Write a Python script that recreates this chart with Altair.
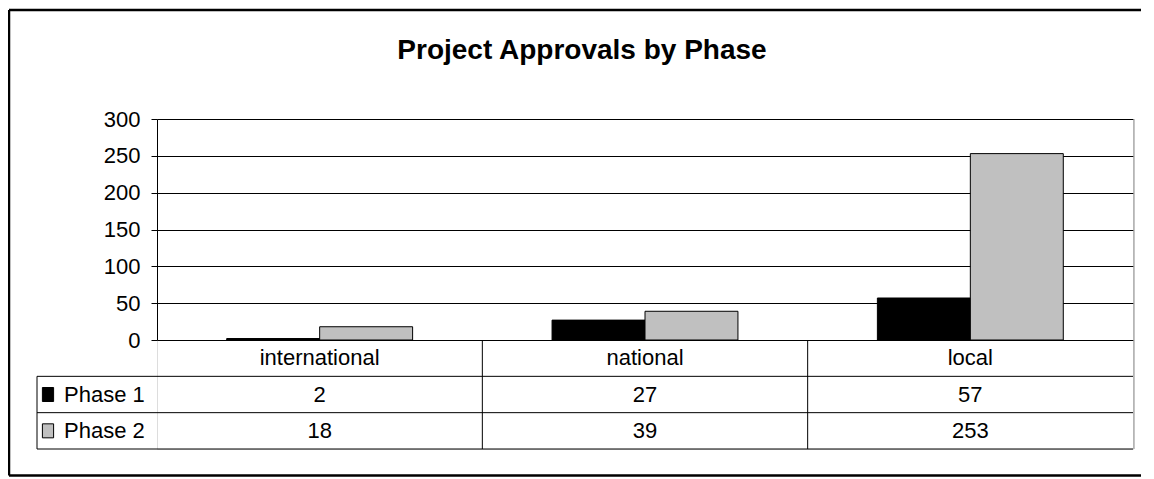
import altair as alt
import pandas as pd

# ---- data ----
categories = ["international", "national", "local"]
phases = ["Phase 1", "Phase 2"]
phase1 = [2, 27, 57]
phase2 = [18, 39, 253]
title_text = "Project Approvals by Phase"
y_ticks = [0, 50, 100, 150, 200, 250, 300]
phase_colors = ["#000000", "#c0c0c0"]
table_rows = ["category"] + phases

# ---- layout constants (pixels, relative to plot area origin) ----
FONT = "Liberation Sans"
W, H = 976, 330          # plot area + data table
PLOT_H = 221             # bar plot height
LEG_X = -120             # left edge of legend column
FS = 22

long = pd.DataFrame({
    "category": categories * 2,
    "phase": [phases[0]] * 3 + [phases[1]] * 3,
    "value": phase1 + phase2,
})
cat_df = pd.DataFrame({"category": categories, "row": ["category"] * len(categories)})
phase_df = pd.DataFrame({"phase": phases, "row": phases})
one = phase_df.head(1)

xscale = alt.Scale(domain=categories, paddingInner=0, paddingOuter=0)
rowscale = alt.Scale(type="band", domain=table_rows, range=[PLOT_H, H],
                     paddingInner=0, paddingOuter=0)
colscale = alt.Scale(domain=phases, range=phase_colors)

bars = alt.Chart(long).mark_bar(stroke="black", strokeWidth=1).encode(
    x=alt.X("category:N", scale=xscale, axis=None, sort=categories),
    xOffset=alt.XOffset("phase:N", scale=alt.Scale(domain=phases, paddingInner=0, paddingOuter=0.75)),
    y=alt.Y("value:Q",
            scale=alt.Scale(domain=[0, 300], range=[PLOT_H, 0], nice=False),
            axis=alt.Axis(values=y_ticks, title=None, grid=True, gridColor="black",
                          gridWidth=1, gridOpacity=1, domainColor="black", tickColor="black",
                          tickSize=6, labelFont=FONT, labelFontSize=FS,
                          labelColor="black", labelPadding=11)),
    color=alt.Color("phase:N", scale=colscale, legend=None),
)

text_props = dict(font=FONT, fontSize=FS, color="black", baseline="middle")

cat_text = alt.Chart(cat_df).mark_text(**text_props).encode(
    x=alt.X("category:N", scale=xscale, axis=None),
    y=alt.Y("row:N", scale=rowscale, axis=None),
    text="category:N",
)

val_text = alt.Chart(long).mark_text(**text_props).encode(
    x=alt.X("category:N", scale=xscale, axis=None),
    y=alt.Y("phase:N", scale=rowscale, axis=None),
    text="value:Q",
)

leg_text = alt.Chart(phase_df).mark_text(align="left", **text_props).encode(
    x=alt.value(LEG_X + 27),
    y=alt.Y("row:N", scale=rowscale, axis=None),
    text="phase:N",
)

swatch = alt.Chart(phase_df).mark_point(
    shape="M-0.8,-1L0.8,-1L0.8,1L-0.8,1Z", filled=True, size=196,
    stroke="black", strokeWidth=1, opacity=1,
).encode(
    x=alt.value(LEG_X + 11),
    y=alt.Y("row:N", scale=rowscale, axis=None),
    fill=alt.Fill("phase:N", scale=colscale, legend=None),
)

hlines_top = alt.Chart(phase_df).mark_rule(color="black", strokeWidth=1).encode(
    y=alt.Y("row:N", scale=rowscale, axis=None, bandPosition=0),
    x=alt.value(LEG_X), x2=alt.value(W),
)
hline_bottom = alt.Chart(phase_df.tail(1)).mark_rule(color="black", strokeWidth=1).encode(
    y=alt.Y("row:N", scale=rowscale, axis=None, bandPosition=1),
    x=alt.value(LEG_X), x2=alt.value(W),
)

vlines = alt.Chart(pd.DataFrame({"category": categories[1:]})).mark_rule(
    color="black", strokeWidth=1).encode(
    x=alt.X("category:N", scale=xscale, axis=None, bandPosition=0),
    y=alt.value(PLOT_H), y2=alt.value(H),
)

row_h = (H - PLOT_H) / len(table_rows)
leg_left = alt.Chart(one).mark_rule(color="black", strokeWidth=1).encode(
    x=alt.value(LEG_X), y=alt.value(PLOT_H + row_h), y2=alt.value(H),
)

shadow = alt.Chart(one).mark_rule(color="#8c8c8c", strokeWidth=1).encode(
    x=alt.value(W + 1), y=alt.value(0), y2=alt.value(H),
)

# outer chart-area border (top, left, bottom)
FL, FR, FT, FB = -148, 984, -109, 356.5
frame_top = alt.Chart(one).mark_rule(color="black", strokeWidth=2.5).encode(
    x=alt.value(FL), x2=alt.value(FR), y=alt.value(FT))
frame_bottom = alt.Chart(one).mark_rule(color="black", strokeWidth=2.5).encode(
    x=alt.value(FL), x2=alt.value(FR), y=alt.value(FB))
frame_left = alt.Chart(one).mark_rule(color="black", strokeWidth=2.5).encode(
    x=alt.value(FL), y=alt.value(FT), y2=alt.value(FB))

title = alt.Chart(pd.DataFrame({"t": [title_text]})).mark_text(
    font=FONT, fontSize=28, fontWeight="bold", color="black",
    baseline="alphabetic", align="center").encode(
    x=alt.value(425), y=alt.value(-60), text="t:N",
)

chart = alt.layer(
    frame_top, frame_bottom, frame_left,
    bars, hlines_top, hline_bottom, vlines, leg_left, shadow,
    cat_text, val_text, leg_text, swatch, title,
).resolve_scale(y="independent").properties(
    width=W, height=H,
    autosize=alt.AutoSizeParams(type="none"),
    padding={"left": 149, "top": 111, "right": 13, "bottom": 30},
).configure_view(stroke="black", strokeWidth=1).configure(background="white")

chart.save("out.html", embed_options={"renderer": "svg", "actions": False})
